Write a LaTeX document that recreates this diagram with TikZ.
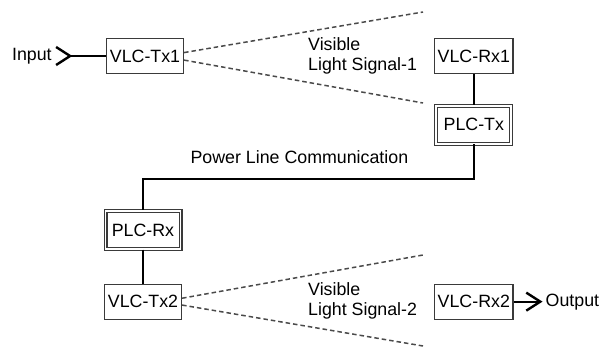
\documentclass[tikz,border=0pt]{standalone}
\usepackage{fontspec}
\setmainfont{Liberation Sans}
\usetikzlibrary{arrows.meta,positioning}
\definecolor{boxline}{HTML}{3A3A3A}
\definecolor{beamgray}{HTML}{4A4A4A}

\begin{document}
\begin{tikzpicture}[
  x=1pt,y=1pt,
  font=\fontsize{17.8}{20}\selectfont,
  blk/.style={draw=boxline,line width=1.2pt,minimum width=77pt,minimum height=35pt,inner sep=3pt},
  plc/.style={draw=boxline,line width=1.1pt,double,double distance=1.8pt,
              minimum width=75pt,minimum height=38pt,inner sep=3pt},
  lbl/.style={inner sep=3pt},
  wire/.style={line width=2pt},
  beam/.style={beamgray,line width=1.5pt,dash pattern=on 4.5pt off 3pt},
  chev/.tip={Straight Barb[length=14pt,width=18pt,line width=2.4pt]}
]
  \useasboundingbox (0,0) rectangle (611,347);

  % first light link
  \node[blk] (tx1) at (145,291) {VLC-Tx1};
  \node[blk,right=250pt of tx1] (rx1) {VLC-Rx1};
  \node[plc,below=31pt of rx1] (plctx) {PLC-Tx};
  \node[lbl,left=51pt of tx1] (input) {Input};

  % second light link
  \node[plc] (plcrx) at (143,117) {PLC-Rx};
  \node[blk,below=34pt of plcrx] (tx2) {VLC-Tx2};
  \node[blk,right=252pt of tx2] (rx2) {VLC-Rx2};
  \node[lbl,right=29pt of rx2] (output) {Output};

  \coordinate (b1up) at (423,335);
  \coordinate (b1dn) at (423,244);
  \coordinate (b2up) at (423,92);
  \coordinate (b2dn) at (423,1);

  \node[lbl,align=left,anchor=west] (sig1) at (305,291) {Visible\\Light Signal-1};
  \node[lbl,align=left,anchor=west] (sig2) at (305,46) {Visible\\Light Signal-2};

  \draw[wire,{chev[reversed]}-] (input) -- (tx1);
  \draw[beam] (tx1.5) -- (b1up);
  \draw[beam] (tx1.-6) -- (b1dn);
  \draw[wire] (rx1) -- (plctx);
  \draw[wire] (plctx) -- ++(0,-54) -| node[pos=0.25,above,yshift=11pt,xshift=-9pt] (plclbl)
    {Power Line Communication} (plcrx);
  \draw[wire] (plcrx) -- (tx2);
  \draw[beam] (tx2.5) -- (b2up);
  \draw[beam] (tx2.-5) -- (b2dn);
  \draw[wire,-chev] (rx2) -- (output);
\end{tikzpicture}
\end{document}
